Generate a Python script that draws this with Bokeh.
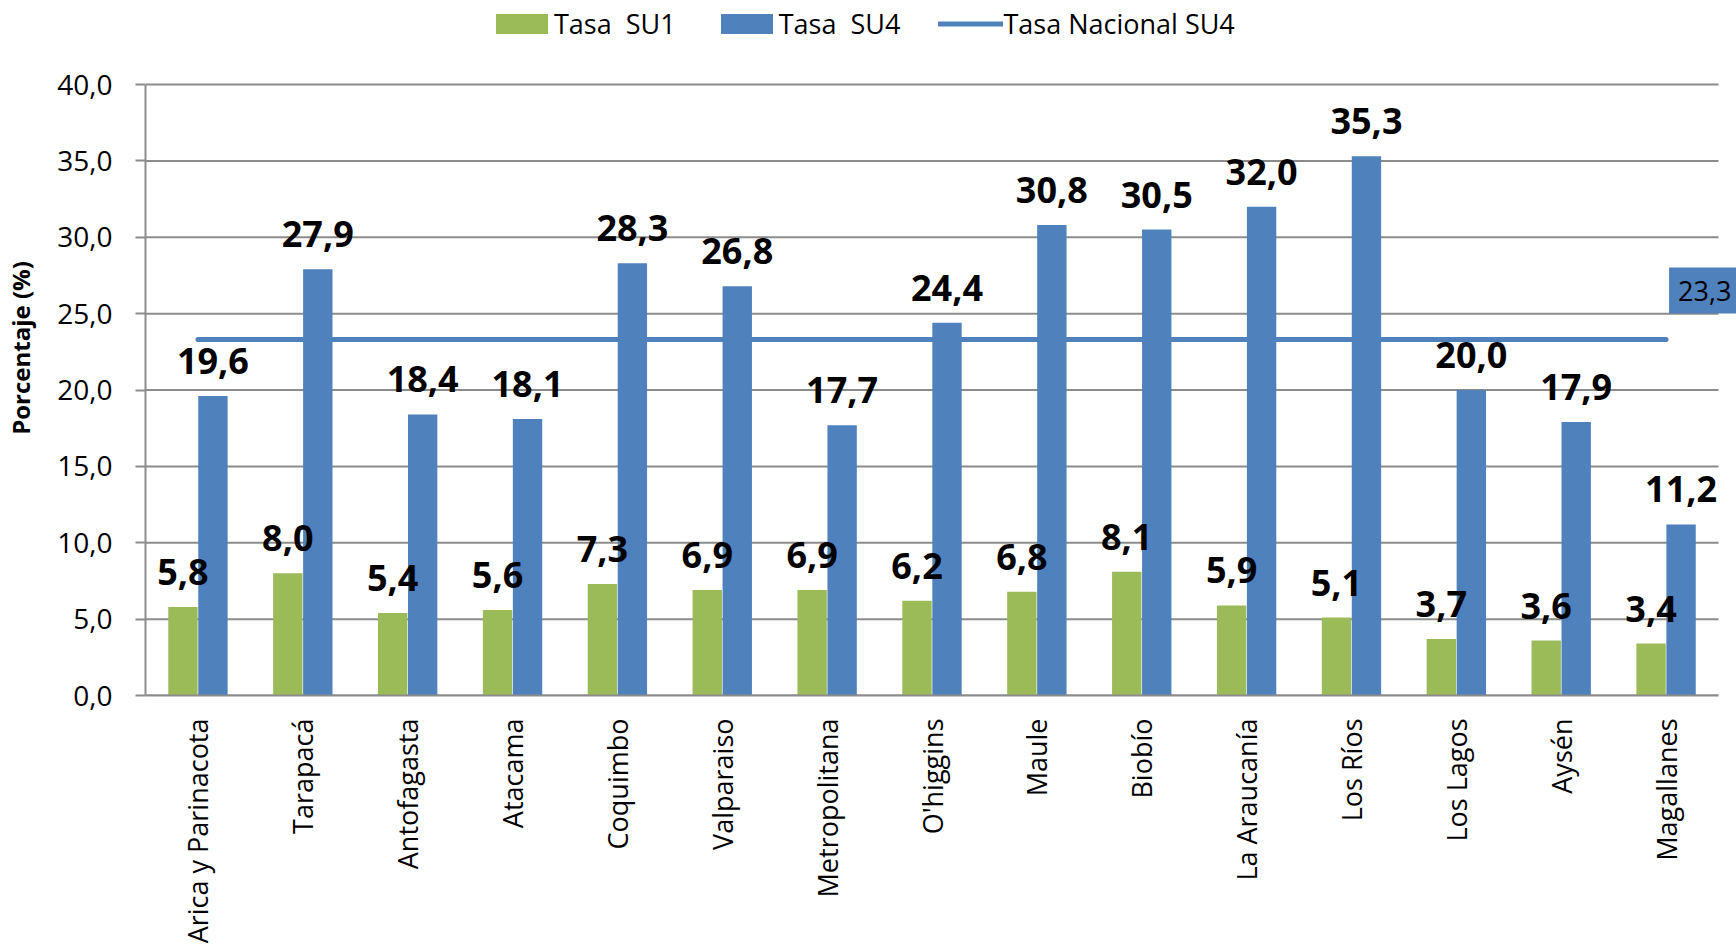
from math import pi
from bokeh.plotting import figure
from bokeh.models import (ColumnDataSource, Range1d, LabelSet, Label,
                          Legend, LegendItem, FixedTicker)
from bokeh.core.properties import value
from bokeh.embed import file_html
from bokeh.resources import INLINE

regions = ["Arica y Parinacota", "Tarapacá", "Antofagasta", "Atacama", "Coquimbo",
           "Valparaiso", "Metropolitana", "O'higgins", "Maule", "Biobío",
           "La Araucanía", "Los Ríos", "Los Lagos", "Aysén", "Magallanes"]
su1 = [5.8, 8.0, 5.4, 5.6, 7.3, 6.9, 6.9, 6.2, 6.8, 8.1, 5.9, 5.1, 3.7, 3.6, 3.4]
su4 = [19.6, 27.9, 18.4, 18.1, 28.3, 26.8, 17.7, 24.4, 30.8, 30.5, 32.0, 35.3, 20.0, 17.9, 11.2]
national_su4 = 23.3
y_ticks = [0, 5, 10, 15, 20, 25, 30, 35, 40]
y_tick_labels = ["0,0", "5,0", "10,0", "15,0", "20,0", "25,0", "30,0", "35,0", "40,0"]
series_names = ["Tasa  SU1", "Tasa  SU4", "Tasa Nacional SU4"]

GREEN = "#9BBB59"
BLUE = "#4F81BD"
GRAY = "#8C8C8C"
FONT = "Open Sans"

N = len(regions)
Y_MAX = 40
# layout constants (pixels)
CANVAS_W, CANVAS_H = 1736, 950
LEFT, BOTTOM = 145, 255
PLOT_W = 1573          # width occupied by the categories
PLOT_TOP = 84          # pixels from canvas top to the 40 gridline
FRAME_W = CANVAS_W - LEFT
FRAME_H = CANVAS_H - BOTTOM
px_per_cat = PLOT_W / N
px_per_unit = (FRAME_H - PLOT_TOP) / Y_MAX
x_end = FRAME_W / px_per_cat
y_end = FRAME_H / px_per_unit

OFF = 0.143
BAR_W = 0.28


def fmt(v):
    return f"{v:.1f}".replace(".", ",")


centers = [i + 0.5 for i in range(N)]
source = ColumnDataSource(dict(
    xc=centers,
    x1=[c - OFF for c in centers], x4=[c + OFF for c in centers],
    su1=su1, su4=su4,
    su1_txt=[fmt(v) for v in su1], su4_txt=[fmt(v) for v in su4],
))

p = figure(x_range=Range1d(0, x_end), y_range=Range1d(0, y_end),
           width=CANVAS_W, height=CANVAS_H,
           output_backend="svg", toolbar_location=None,
           min_border_left=LEFT, min_border_right=0, min_border_top=0,
           min_border_bottom=BOTTOM)
p.outline_line_color = None
p.background_fill_color = "white"
p.xgrid.grid_line_color = None
p.ygrid.grid_line_color = None

# horizontal gridlines limited to the category area
p.segment(x0=[0] * len(y_ticks), x1=[N] * len(y_ticks), y0=y_ticks, y1=y_ticks,
          line_color=GRAY, line_width=2)

r1 = p.vbar(x="x1", top="su1", width=BAR_W, source=source,
            fill_color=GREEN, line_color=None)
r2 = p.vbar(x="x4", top="su4", width=BAR_W, source=source,
            fill_color=BLUE, line_color=None)
r3 = p.line(x=[centers[0], centers[-1]], y=[national_su4, national_su4],
            line_color=BLUE, line_width=5, line_cap="round")

lab1 = LabelSet(x="x1", y="su1", text="su1_txt",
                source=source, text_align="center", text_baseline="alphabetic",
                y_offset=22, text_font=value(FONT), text_font_style="bold",
                text_font_size="36px", text_color="black")
lab2 = LabelSet(x="x4", y="su4", text="su4_txt",
                source=source, text_align="center", text_baseline="alphabetic",
                y_offset=22, text_font=value(FONT), text_font_style="bold",
                text_font_size="36px", text_color="black")
p.add_layout(lab1)
p.add_layout(lab2)

# padding given as (left, right, top, bottom)
nat_label = Label(x=centers[-1], y=national_su4, x_offset=3, y_offset=49,
                  text=fmt(national_su4), text_font=FONT, text_font_size="27px",
                  text_color="black", text_baseline="middle", text_align="left",
                  background_fill_color=BLUE, padding=(9, 9, 13, 13))
p.add_layout(nat_label)

# x axis (categories)
p.xaxis.ticker = FixedTicker(ticks=centers)
p.xaxis.major_label_overrides = dict(zip(centers, regions))
p.xaxis.bounds = (0, N)
p.xaxis.major_label_orientation = pi / 2
p.xaxis.major_tick_line_color = None
p.xaxis.minor_tick_line_color = None
p.xaxis.major_tick_out = 0
p.xaxis.major_tick_in = 0
p.xaxis.major_label_standoff = 23
p.xaxis.major_label_text_font = FONT
p.xaxis.major_label_text_font_size = "27px"
p.xaxis.major_label_text_color = "black"
p.xaxis.axis_line_color = GRAY
p.xaxis.axis_line_width = 2

# y axis
p.yaxis.ticker = FixedTicker(ticks=y_ticks)
p.yaxis.major_label_overrides = dict(zip(y_ticks, y_tick_labels))
p.yaxis.bounds = (0, Y_MAX)
p.yaxis.major_tick_out = 10
p.yaxis.major_tick_in = 0
p.yaxis.major_tick_line_color = GRAY
p.yaxis.major_tick_line_width = 2
p.yaxis.minor_tick_line_color = None
p.yaxis.axis_line_color = GRAY
p.yaxis.axis_line_width = 2
p.yaxis.major_label_standoff = 23
p.yaxis.major_label_text_font = FONT
p.yaxis.major_label_text_font_size = "28px"
p.yaxis.major_label_text_color = "black"
p.yaxis.axis_label = "Porcentaje (%)"
p.yaxis.axis_label_text_font = FONT
p.yaxis.axis_label_text_font_style = "bold"
p.yaxis.axis_label_text_font_size = "24px"
p.yaxis.axis_label_text_color = "black"
p.yaxis.axis_label_standoff = 17

legend = Legend(items=[LegendItem(label=series_names[0], renderers=[r1]),
                       LegendItem(label=series_names[1], renderers=[r2]),
                       LegendItem(label=series_names[2], renderers=[r3])],
                orientation="horizontal", location=(344, FRAME_H - 42),
                glyph_width=65, glyph_height=25, label_standoff=0, spacing=38,
                padding=0, margin=0, border_line_color=None,
                background_fill_alpha=0, label_text_font=FONT,
                label_text_font_size="27px", label_text_color="black")
p.add_layout(legend, "center")

open("out.html", "w").write(file_html(p, INLINE))
